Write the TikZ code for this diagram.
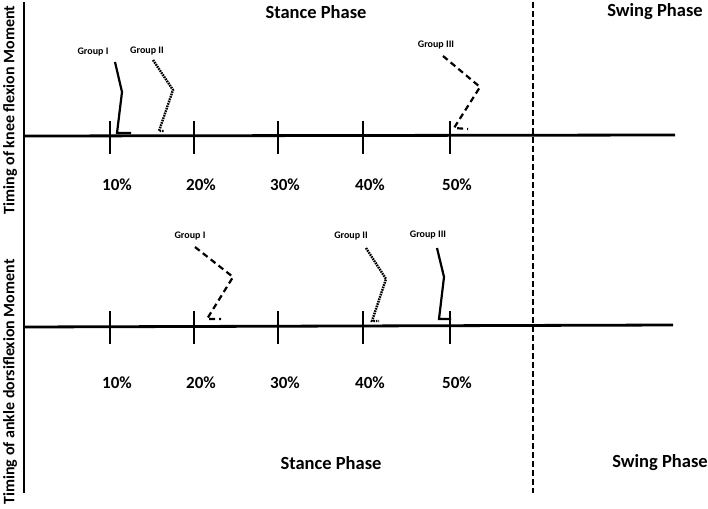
\documentclass[tikz,border=0pt]{standalone}
\usepackage{fontspec}
\setmainfont{Carlito}
\begin{document}
\begin{tikzpicture}[x=1pt,y=-1pt,
  axis/.style={line width=2.8pt},
  tick/.style={line width=1.3pt},
  phase/.style={font=\bfseries\fontsize{18.5}{20}\selectfont},
  pct/.style={font=\bfseries\fontsize{17}{19}\selectfont},
  ylab/.style={font=\bfseries\fontsize{16}{18}\selectfont, rotate=90},
  grp/.style={font=\bfseries\fontsize{10}{12}\selectfont},
  g1/.style={line width=2.2pt},
  g2/.style={line width=2.4pt, dash pattern=on 1.6pt off 0.9pt},
  g3/.style={line width=2.2pt, dash pattern=on 6pt off 4pt}]
\useasboundingbox (0,0) rectangle (708,508);
% axes
\coordinate (ytop) at (24,2);
\coordinate (ybot) at (24,493);
\draw[axis] (ytop) -- (ybot);
\coordinate (a1l) at (24,136); \coordinate (a1r) at (675,135);
\coordinate (a2l) at (24,327); \coordinate (a2r) at (673,325);
\draw[axis] (a1l) -- (a1r);
\draw[axis] (a2l) -- (a2r);
\coordinate (dtop) at (533,2); \coordinate (dbot) at (533,493);
\draw[line width=2.4pt, dash pattern=on 6pt off 3pt] (dtop) -- (dbot);
% ticks and labels
\foreach \x/\l/\n in {110/10/a,194/20/b,278/30/c,363/40/d,450/50/e}{
  \draw[tick] (\x,121) -- (\x,154);
  \draw[tick] (\x,311) -- (\x,344);
  \node[pct] (p1\n) at (\x+7,185) {\l\%};
  \node[pct] (p2\n) at (\x+7,383) {\l\%};
}
% phase labels
\node[phase] (st1) at (316,12) {Stance Phase};
\node[phase] (sw1) at (655,12) {Swing Phase};
\node[phase] (st2) at (331,463) {Stance Phase};
\node[phase] (sw2) at (660,463) {Swing Phase};
% y labels
\node[ylab] (yl1) at (10,110) {Timing of knee flexion Moment};
\node[ylab] (yl2) at (10,382) {Timing of ankle dorsiflexion Moment};
% top groups
\node[grp] (t1) at (93,52) {Group I};
\node[grp] (t2) at (147,51) {Group II};
\node[grp] (t3) at (436,45) {Group III};
\draw[g1] (115,62) -- (122,92) -- (117,133) -- (131,133);
\draw[g2] (153,60) -- (173,90) -- (159,131) -- (164,131);
\draw[g3] (443,56) -- (480,87) -- (454,128) -- (468,129);
% bottom groups
\node[grp] (b1) at (190,236) {Group I};
\node[grp] (b2) at (351,236) {Group II};
\node[grp] (b3) at (428,235) {Group III};
\draw[g3] (195,247) -- (233,277) -- (207,319) -- (221,319);
\draw[g2] (366,248) -- (386,279) -- (372,321) -- (379,321);
\draw[g1] (437,248) -- (444,277) -- (439,319) -- (451,319);
\end{tikzpicture}
\end{document}
